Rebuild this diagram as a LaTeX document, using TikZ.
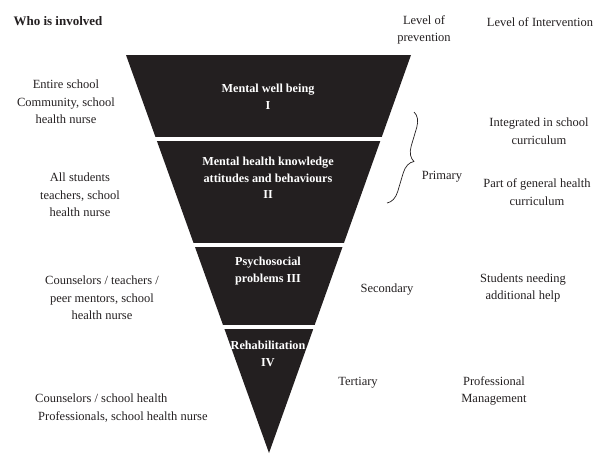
\documentclass[tikz,border=0pt]{standalone}
\usepackage{fontspec}
\setmainfont{Liberation Serif}
\usetikzlibrary{decorations.pathreplacing}
\definecolor{ink}{HTML}{231F20}
\tikzset{
  txt/.style={align=center, text=ink, inner sep=0pt,
    font=\fontsize{12.5}{17.5}\selectfont},
  head/.style={align=center, text=ink, inner sep=0pt,
    font=\fontsize{13}{17.5}\selectfont\bfseries},
  tier/.style={align=center, text=white, inner sep=0pt,
    font=\fontsize{12.2}{16.5}\selectfont\bfseries},
  gapline/.style={white, line width=3.5pt},
  bracket/.style={ink, line width=0.7pt,
    decorate, decoration={brace, amplitude=14pt}}
}
\begin{document}
\begin{tikzpicture}[x=1pt, y=-1pt]
\useasboundingbox (0,0) rectangle (596,453);

% inverted triangle, split into four tiers by white gaps
\fill[ink] (126,55) -- (411,55) -- (269,453) -- cycle;
\draw[gapline] (110,139) -- (430,139);
\draw[gapline] (110,245) -- (430,245);
\draw[gapline] (110,327) -- (430,327);

% column headings
\node[head] (who)   at (58,21)   {Who is involved};
\node[txt]  (levp)  at (424,30)  {Level of\\prevention};
\node[txt]  (levi)  at (540,22)  {Level of Intervention};

% tier labels
\node[tier] (t1) at (268,97)   {Mental well being\\I};
\node[tier] (t2) at (268,178)  {Mental health knowledge\\attitudes and behaviours\\II};
\node[tier] (t3) at (268,271)  {Psychosocial\\problems III};
\node[tier] (t4) at (268,354)  {Rehabilitation\\IV};

% who is involved
\node[txt] (w1) at (66,102)  {Entire school\\Community, school\\health nurse};
\node[txt] (w2) at (80,195)  {All students\\teachers, school\\health nurse};
\node[txt] (w3) at (102,298) {Counselors / teachers /\\peer mentors, school\\health nurse};
\node[txt, align=left, anchor=west] (w4) at (35,408)
  {Counselors / school health\\\hspace*{3pt}Professionals, school health nurse};

% level of prevention
\coordinate (btop) at (414,112);
\coordinate (bbot) at (387,203);
\draw[bracket] (btop) -- (bbot);
\node[txt] (p1) at (442,177) {Primary};
\node[txt] (p2) at (387,290) {Secondary};
\node[txt] (p3) at (358,383) {Tertiary};

% level of intervention
\node[txt] (i1) at (539,131) {Integrated in school\\curriculum};
\node[txt] (i2) at (537,192) {Part of general health\\curriculum};
\node[txt] (i3) at (523,288) {Students needing\\additional help};
\node[txt] (i4) at (494,391) {Professional\\Management};
\end{tikzpicture}
\end{document}
